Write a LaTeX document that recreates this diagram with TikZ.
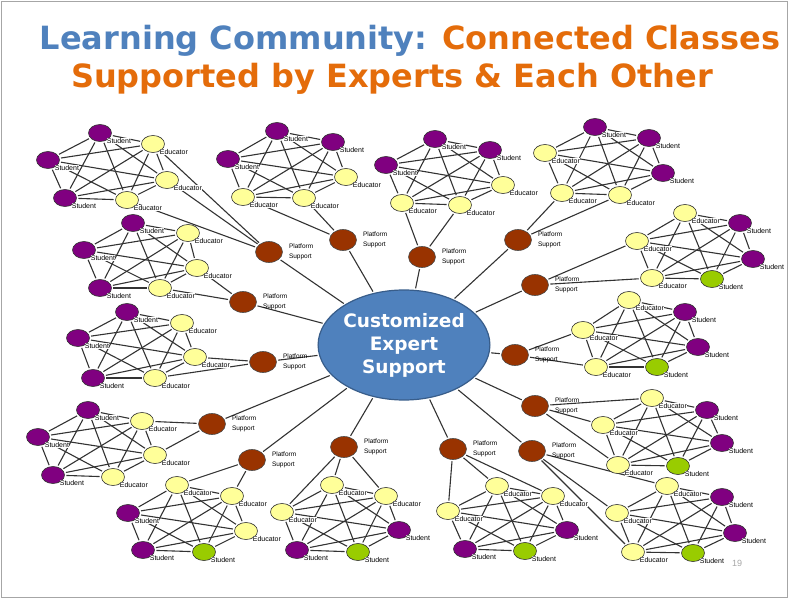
\documentclass[tikz,border=0pt]{standalone}
\usepackage{fontspec}
\setmainfont{Liberation Sans}
\newfontfamily\headfont{DejaVu Sans}
\usetikzlibrary{shapes.geometric,backgrounds}

\definecolor{stupurple}{HTML}{800080}
\definecolor{eduyellow}{HTML}{FFFF99}
\definecolor{newgreen}{HTML}{99CC00}
\definecolor{platbrown}{HTML}{993300}
\definecolor{hubblue}{HTML}{4F81BD}
\definecolor{hubline}{HTML}{385D8A}
\definecolor{titleblue}{HTML}{4F81BD}
\definecolor{titleorange}{HTML}{E46C0A}

\tikzset{
  member/.style={ellipse, draw=black!80, line width=0.6pt, minimum width=23, minimum height=17, inner sep=0},
  tag/.style={font=\fontsize{7}{7}\selectfont, inner sep=0.3pt, fill=white, anchor=west, xshift=-2, yshift=-2},
  student/.style={member, fill=stupurple, label={[tag]south east:Student}},
  newstudent/.style={member, fill=newgreen, label={[tag]south east:Student}},
  educator/.style={member, fill=eduyellow, label={[tag]south east:Educator}},
  ptag/.style={font=\fontsize{6.5}{10.5}\selectfont, align=left, inner sep=0, anchor=west, xshift=6},
  platform/.style={ellipse, draw=black!70, line width=0.6pt, fill=platbrown, minimum width=27, minimum height=21, inner sep=0, label={[ptag]east:Platform\\Support}},
  hub/.style={ellipse, draw=hubline, line width=1.2pt, fill=hubblue, minimum width=142, minimum height=110, inner sep=0,
    text=white, align=center, font=\headfont\bfseries\fontsize{18.5}{23}\selectfont},
  link/.style={draw=black!80, line width=1.1pt, shorten <=1.5, shorten >=1.5},
  frame/.style={draw=black!35, line width=0.8pt}
}

% one class: six members, everybody linked to everybody
\newcommand{\classroom}[2]{%
  \foreach \k/\s/\x/\y in {#2} \node[\s] (#1\k) at (\x,\y) {};
  \begin{scope}[on background layer]
    \foreach \i in {1,...,5}{%
      \pgfmathtruncatemacro{\nxt}{\i+1}
      \foreach \j in {\nxt,...,6} \draw[link] (#1\i) -- (#1\j);}
  \end{scope}}

\begin{document}
\begin{tikzpicture}[x=1pt,y=-1pt]
\useasboundingbox (0,0) rectangle (788,599);
\draw[frame] (1,1) rectangle (787,597);

% heading
\node[anchor=base, font=\headfont\bfseries\fontsize{32}{38}\selectfont] (head1) at (410,50)
  {\textcolor{titleblue}{Learning Community:} \textcolor{titleorange}{Connected Classes}};
\node[anchor=base, font=\headfont\bfseries\fontsize{32}{38}\selectfont, text=titleorange] (head2) at (392,88)
  {Supported by Experts \& Each Other};

\node[hub] (hub) at (404,345) {Customized\\Expert\\Support};

% the classes
\classroom{a}{1/student/100/133, 2/student/48/160, 3/student/65/198, 4/educator/153/144, 5/educator/167/180, 6/educator/127/200}
\classroom{b}{1/student/277/131, 2/student/333/142, 3/student/228/159, 4/educator/346/177, 5/educator/243/197, 6/educator/304/198}
\classroom{c}{1/student/435/139, 2/student/490/150, 3/student/386/165, 4/educator/503/185, 5/educator/402/203, 6/educator/460/205}
\classroom{d}{1/student/595/127, 2/student/649/138, 3/student/663/173, 4/educator/545/153, 5/educator/562/193, 6/educator/620/195}
\classroom{e}{1/student/133/223, 2/student/84/250, 3/student/100/288, 4/educator/188/233, 5/educator/197/268, 6/educator/160/288}
\classroom{f}{1/student/740/223, 2/student/753/259, 3/newstudent/712/279, 4/educator/685/213, 5/educator/637/241, 6/educator/652/278}
\classroom{g}{1/student/127/312, 2/student/78/338, 3/student/93/378, 4/educator/182/323, 5/educator/195/357, 6/educator/155/378}
\classroom{h}{1/student/685/312, 2/student/698/347, 3/newstudent/657/367, 4/educator/629/300, 5/educator/583/330, 6/educator/596/367}
\classroom{i}{1/student/88/410, 2/student/38/437, 3/student/53/475, 4/educator/142/421, 5/educator/155/455, 6/educator/113/477}
\classroom{j}{1/student/128/513, 2/student/143/550, 3/newstudent/204/552, 4/educator/177/485, 5/educator/232/496, 6/educator/246/531}
\classroom{k}{1/student/399/530, 2/student/297/550, 3/newstudent/358/552, 4/educator/332/485, 5/educator/386/496, 6/educator/282/512}
\classroom{l}{1/student/567/530, 2/student/465/549, 3/newstudent/525/551, 4/educator/497/486, 5/educator/553/496, 6/educator/448/511}
\classroom{m}{1/student/707/410, 2/student/722/443, 3/newstudent/678/466, 4/educator/652/398, 5/educator/603/425, 6/educator/618/465}
\classroom{n}{1/student/722/497, 2/student/735/533, 3/newstudent/693/553, 4/educator/667/486, 5/educator/617/513, 6/educator/633/552}

% platform support around the hub
\foreach \k/\x/\y in {a/269/252, b/343/240, c/422/257, d/518/240, e/243/302, f/535/285, g/263/362,
    h/515/355, i/212/424, m/535/406, j/252/460, k/344/447, l/453/449, n/532/451}
  \node[platform] (p\k) at (\x,\y) {};

\begin{scope}[on background layer]
  \foreach \k in {a,b,c,d,e,f,g,h,i,j,k,l,m,n}
    \draw[link] (hub) -- (p\k);
  \foreach \p/\q in {pa/a4, pa/a5, pa/a6, pb/b5, pb/b6, pc/c5, pc/c6, pd/d5, pd/d6,
      pe/e5, pe/e6, pf/f5, pf/f6, pg/g5, pg/g6, ph/h5, ph/h6, pi/i4, pi/i5,
      pj/j4, pj/j5, pk/k4, pk/k5, pk/k6, pl/l4, pl/l5, pl/l6, pm/m4, pm/m5, pm/m6,
      pn/n4, pn/n5, pn/n6}
    \draw[link] (\p) -- (\q);
\end{scope}

\node[font=\fontsize{9}{9}\selectfont, text=black!35] (pageno) at (737,563) {19};
\end{tikzpicture}
\end{document}
